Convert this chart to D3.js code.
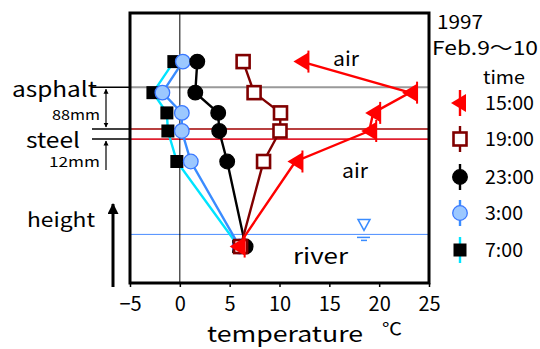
<!DOCTYPE html>
<html>
<head>
<meta charset="utf-8">
<script src="https://cdn.jsdelivr.net/npm/d3@7"></script>
<style>
  body { margin: 0; background: #fff; }
  text { font-family: "Noto Sans CJK JP", "DejaVu Sans", sans-serif; fill: #000; }
</style>
</head>
<body>
<svg id="chart" width="540" height="349"></svg>
<script>
// measuring levels (relative height, river at bottom)
const levels = [82, 70.5, 63, 56.3, 45, 13.5];
const times = ["15:00", "19:00", "23:00", "3:00", "7:00"];
const t1500 = [12.2, 23.1, 19.4, 19.0, 11.6, 5.8];
const t1900 = [6.35, 7.45, 10.1, 10.05, 8.4, 6.1];
const t2300 = [1.75, 1.55, 3.85, 3.95, 4.75, 6.6];
const t0300 = [0.3, -1.75, 0.2, 0.2, 1.1, 6.0];
const t0700 = [-0.6, -2.7, -1.3, -1.2, -0.3, 5.9];
const xTicks = [-5, 0, 5, 10, 15, 20, 25];

// reference heights of the structure
const asphaltLevel = 72.5;
const steelLevels = [57, 53.3];
const waterLevel = 18;

const svg = d3.select("#chart");
const pLeft = 130, pRight = 429, pTop = 13, pBottom = 283;

const x = d3.scaleLinear().domain([-5, 25]).range([pLeft, pRight]);
const y = d3.scaleLinear().domain([0, 100]).range([pBottom, pTop]);

const triPath = "M-8,0L7,-9L7,9Z";

const series = [
  { name: times[4], vals: t0700, line: "#00e4ff", mark: "square", fill: "#000", stroke: "#000" },
  { name: times[3], vals: t0300, line: "#3a8cff", mark: "circle", fill: "#9cc8ff", stroke: "#3a78ff" },
  { name: times[2], vals: t2300, line: "#000",    mark: "circle", fill: "#000", stroke: "#000" },
  { name: times[1], vals: t1900, line: "#800000", mark: "osquare", fill: "#fff", stroke: "#800000" },
  { name: times[0], vals: t1500, line: "#ff0000", mark: "tri", fill: "#ff0000", stroke: "#ff0000" }
];

// text helper: start x, baseline, size, drawn width
function label(g, str, tx, ty, size, w) {
  const t = g.append("text").attr("x", tx).attr("y", ty).attr("font-size", size).text(str);
  if (w) t.attr("textLength", w).attr("lengthAdjust", "spacingAndGlyphs");
  return t;
}

// reference lines
svg.append("line").attr("x1", pLeft).attr("x2", pRight)
  .attr("y1", y(asphaltLevel)).attr("y2", y(asphaltLevel))
  .attr("stroke", "#999").attr("stroke-width", 2);
svg.append("line").attr("x1", pLeft).attr("x2", pRight)
  .attr("y1", y(steelLevels[0])).attr("y2", y(steelLevels[0]))
  .attr("stroke", "#a00000").attr("stroke-width", 1.5);
svg.append("line").attr("x1", pLeft).attr("x2", pRight)
  .attr("y1", y(steelLevels[1])).attr("y2", y(steelLevels[1]))
  .attr("stroke", "#e02030").attr("stroke-width", 1.8);
svg.append("line").attr("x1", pLeft).attr("x2", pRight)
  .attr("y1", y(waterLevel)).attr("y2", y(waterLevel))
  .attr("stroke", "#4a8cff").attr("stroke-width", 1);
svg.append("line").attr("x1", x(0)).attr("x2", x(0))
  .attr("y1", pTop).attr("y2", pBottom)
  .attr("stroke", "#000").attr("stroke-width", 1);

// water mark
const wx = 364, wy = y(waterLevel);
svg.append("path").attr("d", `M${wx-6},${wy-15}L${wx+6},${wy-15}L${wx},${wy-4}Z`)
  .attr("fill", "none").attr("stroke", "#3a8cff").attr("stroke-width", 1.5);
svg.append("line").attr("x1", wx-7).attr("x2", wx+6).attr("y1", wy+3).attr("y2", wy+3)
  .attr("stroke", "#3a8cff").attr("stroke-width", 1.5);
svg.append("line").attr("x1", wx-3).attr("x2", wx+3).attr("y1", wy+6).attr("y2", wy+6)
  .attr("stroke", "#3a8cff").attr("stroke-width", 1.5);

const lineGen = d3.line().x(d => x(d[0])).y(d => y(d[1]));

function drawMark(g, kind, s, cx, cy) {
  if (kind === "square") {
    g.append("rect").attr("x", cx - 6.5).attr("y", cy - 6.5).attr("width", 13).attr("height", 13)
      .attr("fill", s.fill);
  } else if (kind === "osquare") {
    g.append("rect").attr("x", cx - 6.5).attr("y", cy - 6.5).attr("width", 13).attr("height", 13)
      .attr("fill", "#fff").attr("stroke", s.stroke).attr("stroke-width", 2.6);
  } else if (kind === "circle") {
    g.append("circle").attr("cx", cx).attr("cy", cy).attr("r", 7.3)
      .attr("fill", s.fill).attr("stroke", s.stroke).attr("stroke-width", 1.3);
  } else {
    g.append("path").attr("d", triPath).attr("transform", `translate(${cx},${cy})`)
      .attr("fill", s.fill);
    g.append("line").attr("x1", cx + 7).attr("x2", cx + 7).attr("y1", cy - 11).attr("y2", cy + 11)
      .attr("stroke", s.stroke).attr("stroke-width", 2);
  }
}

series.forEach(s => {
  const pts = s.vals.map((v, i) => [v, levels[i]]);
  svg.append("path").attr("d", lineGen(pts))
    .attr("fill", "none").attr("stroke", s.line).attr("stroke-width", 2.4);
});
series.forEach(s => {
  const g = svg.append("g");
  s.vals.forEach((v, i) => drawMark(g, s.mark, s, x(v), y(levels[i])));
});

// frame
svg.append("rect").attr("x", pLeft).attr("y", pTop).attr("width", pRight - pLeft).attr("height", pBottom - pTop)
  .attr("fill", "none").attr("stroke", "#000").attr("stroke-width", 3);

// x axis
const ax = svg.append("g").attr("transform", `translate(0,${pBottom})`)
  .call(d3.axisBottom(x).tickValues(xTicks).tickSize(4).tickPadding(10)
    .tickFormat(d => d < 0 ? "\u2212" + Math.abs(d) : d));
ax.select(".domain").remove();
ax.selectAll(".tick line").attr("stroke", "#000").attr("stroke-width", 1.5);
ax.selectAll("text").attr("font-size", 20).attr("font-family", "Noto Sans CJK JP");

label(svg, "temperature", 207, 342, 22, 156);
label(svg, "℃", 382, 335, 17, 20);

// labels inside plot
label(svg, "air", 333, 66, 20, 26);
label(svg, "air", 342, 178, 20, 26);
label(svg, "river", 293, 264, 21, 55);

// date
label(svg, "1997", 437, 29, 19, 46);
label(svg, "Feb.9～10", 432, 55, 19, 106);

// legend
label(svg, "time", 483, 84, 18, 42);
const legY = [103, 139, 177, 213, 250];
const legOrder = series.slice().reverse();
legOrder.forEach((s, i) => {
  const g = svg.append("g");
  const ly = legY[i];
  g.append("line").attr("x1", 460).attr("x2", 460).attr("y1", ly - 13).attr("y2", ly + 13)
    .attr("stroke", s.line).attr("stroke-width", 2.4);
  if (s.mark === "tri") {
    g.append("path").attr("d", triPath).attr("transform", `translate(459,${ly})`).attr("fill", s.fill);
  } else {
    drawMark(g, s.mark, s, 460, ly);
  }
  label(g, s.name, 485, ly + 7, 19, s.name.length > 4 ? 49 : 38);
});

// structure annotation on the left
const ann = svg.append("g");
label(ann, "asphalt", 12, 97, 21, 85);
label(ann, "steel", 26, 148, 21, 54);
label(ann, "88mm", 52, 120, 14, 48);
label(ann, "12mm", 49, 167, 14, 51);
label(ann, "height", 27, 227, 20, 68);

[y(asphaltLevel), y(steelLevels[0]), y(steelLevels[1])].forEach(yy => {
  ann.append("line").attr("x1", 92).attr("x2", pLeft).attr("y1", yy).attr("y2", yy)
    .attr("stroke", "#000").attr("stroke-width", 1.5);
});

const defs = svg.append("defs");
defs.append("marker").attr("id", "ah").attr("viewBox", "0 0 10 10").attr("refX", 9).attr("refY", 5)
  .attr("markerWidth", 5).attr("markerHeight", 7).attr("orient", "auto-start-reverse")
  .attr("markerUnits", "userSpaceOnUse")
  .append("path").attr("d", "M0,0L10,5L0,10Z").attr("fill", "#000");
defs.append("marker").attr("id", "ahb").attr("viewBox", "0 0 10 10").attr("refX", 9).attr("refY", 5)
  .attr("markerWidth", 22).attr("markerHeight", 11).attr("orient", "auto")
  .attr("markerUnits", "userSpaceOnUse")
  .append("path").attr("d", "M0,0L10,5L0,10Z").attr("fill", "#000");

ann.append("line").attr("x1", 106).attr("x2", 106)
  .attr("y1", y(asphaltLevel) + 2).attr("y2", y(steelLevels[0]) - 2)
  .attr("stroke", "#000").attr("stroke-width", 1.2)
  .attr("marker-start", "url(#ah)").attr("marker-end", "url(#ah)");
ann.append("line").attr("x1", 106).attr("x2", 106)
  .attr("y1", 170).attr("y2", y(steelLevels[1]) + 2)
  .attr("stroke", "#000").attr("stroke-width", 1.2)
  .attr("marker-end", "url(#ah)");
ann.append("line").attr("x1", 113).attr("x2", 113).attr("y1", 287).attr("y2", 204)
  .attr("stroke", "#000").attr("stroke-width", 3)
  .attr("marker-end", "url(#ahb)");
</script>
</body>
</html>
